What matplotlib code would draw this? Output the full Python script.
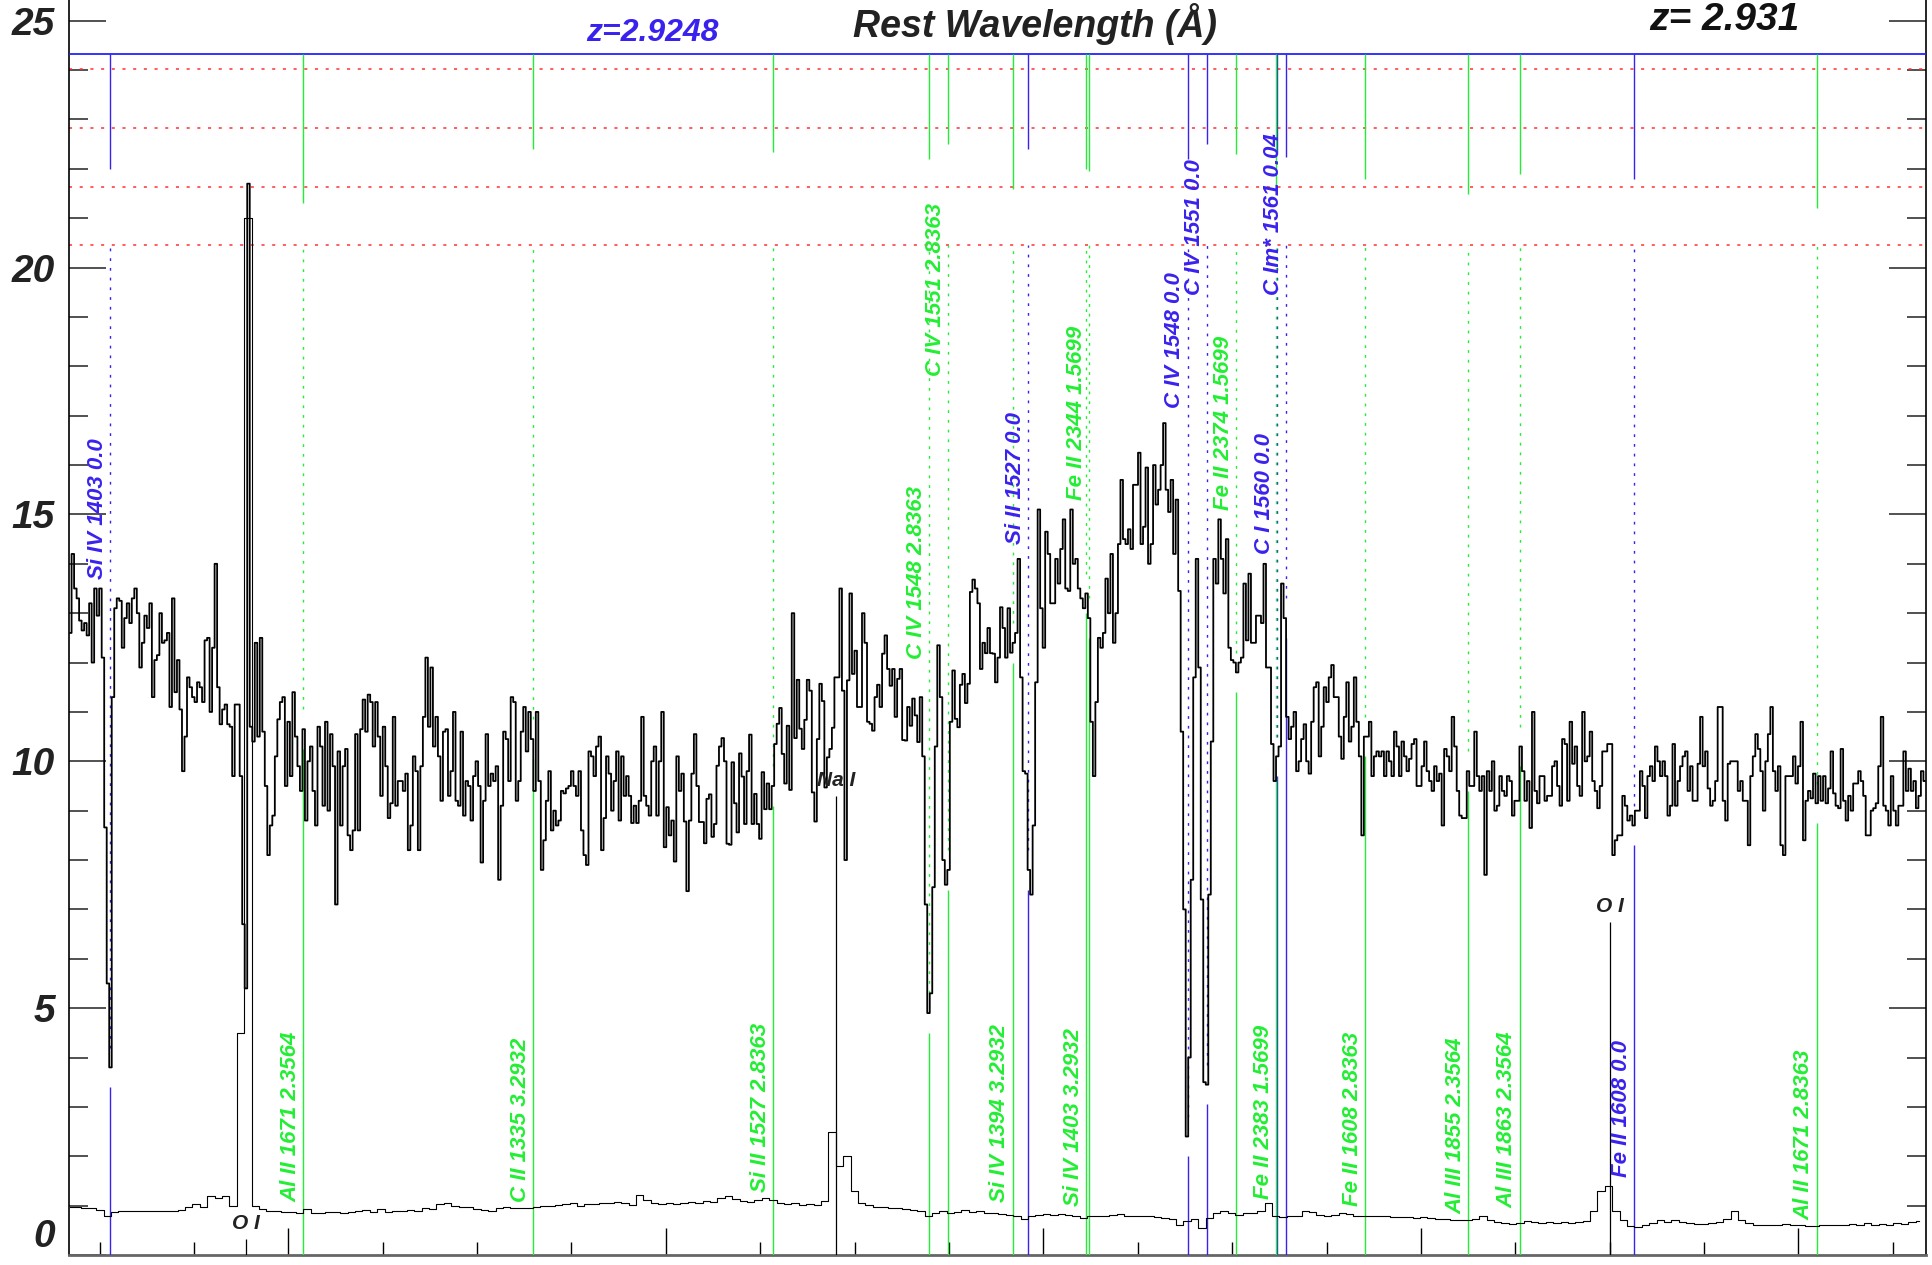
"""Spectrum with absorption-line identifications (two redshift systems)."""

import numpy as np
import matplotlib
matplotlib.use("Agg")
import matplotlib.pyplot as plt
from matplotlib.ticker import MultipleLocator, FuncFormatter

plt.rcParams["font.family"] = ["Liberation Sans", "DejaVu Sans"]

Z_SYS = 2.9248

# flux per pixel in four stretches (left to right)
flux_a = [
    12.6, 14.2, 13.5, 13.3, 12.85, 12.65, 12.8, 12.55, 13.2, 12.0, 13.5, 12.95, 13.5, 12.1,
    8.66, 5.5, 3.8, 11.3, 13.1, 13.3, 13.25, 12.3, 12.9, 13.2, 12.8, 13.3, 13.5, 13.0,
    11.9, 12.4, 12.95, 12.7, 13.2, 11.3, 12.05, 12.15, 13.0, 12.4, 12.45, 12.6, 11.1, 13.3,
    11.4, 12.05, 11.05, 9.8, 10.5, 11.7, 11.5, 11.3, 11.2, 11.6, 11.5, 11.2, 12.45, 12.5,
    11.0, 12.3, 14.0, 11.5, 10.75, 11.05, 11.15, 10.75, 10.7, 9.7, 11.15, 11.15, 9.7,
    6.7, 5.4, 21.7,
    10.7, 10.4, 12.4, 10.5, 12.5, 10.6, 9.5, 8.1, 8.7, 8.9,
    10.1, 10.85, 11.2, 11.3, 9.5, 10.8, 9.7, 11.4, 10.5, 9.9,
    9.4, 10.65, 8.8, 10.0, 10.3, 9.4, 8.7, 10.7, 10.3, 9.1,
    10.8, 9.0, 10.55, 9.9, 7.1, 10.2, 8.7, 9.9, 10.25,
    8.5, 8.2, 8.6, 10.55, 8.6, 10.65, 11.25, 10.6, 11.35, 11.2,
    10.3, 11.2, 10.5, 9.3, 10.7, 9.9, 8.85, 9.15, 10.9, 9.1,
    9.6, 9.6, 9.4, 9.75, 8.2, 8.7, 10.1, 9.8, 8.2, 9.9,
    10.9, 12.1, 10.7, 11.9, 10.3, 10.9, 10.1, 9.2, 10.6, 10.65,
    9.3, 9.8, 11.0, 9.2, 9.1, 10.6, 8.9, 9.6, 9.5, 8.8,
    9.7, 10.0, 9.5, 7.95, 9.2, 10.55, 9.5, 9.75, 9.6, 9.9,
    7.6, 9.1, 10.6, 10.45, 9.6, 11.3, 11.2, 9.2, 9.6, 10.6,
    11.1, 10.2, 11.0, 10.45, 9.4, 11.0, 9.6,
]
flux_b = [
    7.8, 8.4, 9.2, 9.8, 8.6, 9.0, 8.7, 8.8, 9.4, 9.35,
    9.45, 9.5, 9.8, 9.5, 9.3, 9.8, 8.6, 8.1, 7.9, 10.2,
    10.1, 9.7, 10.3, 10.5, 8.2, 8.85, 10.1, 9.75, 9.0, 9.6,
    10.2, 8.8, 10.1, 9.3, 9.7, 9.3, 8.75, 9.1, 8.75, 9.2,
    10.9, 9.3, 9.1, 8.9, 10.0, 10.3, 8.9, 10.0, 11.0, 8.26,
    9.07, 8.5, 8.8, 7.97, 10.1, 9.4, 9.75, 8.78, 7.37, 8.8,
    9.75, 10.55, 9.5, 8.77, 8.77, 8.34, 9.24, 9.33, 8.47, 8.73,
    9.91, 10.3, 10.47, 10.0, 8.33, 8.31, 9.98, 9.15, 8.56, 10.16,
    9.69, 8.73, 9.8, 10.54, 8.73, 9.34, 8.73, 8.43, 9.78, 9.03,
    9.55, 9.03, 9.5, 10.35, 10.76, 11.08, 10.15, 9.55, 10.72, 9.42,
    13.0, 10.47, 11.65, 10.66, 10.25, 10.84, 11.65, 11.43, 9.37, 8.78,
    10.45, 11.57, 11.22, 9.47, 10.08, 10.25, 10.68, 11.7, 11.7, 13.5,
    11.43, 8.0, 11.64, 13.4, 11.77, 12.24, 11.1, 11.1, 13.0, 12.4,
    10.8, 10.76, 10.62, 11.3, 11.55, 11.1, 12.18, 12.55, 11.87, 11.53,
    11.87, 10.9, 11.67, 11.87, 10.43, 10.42, 11.1, 10.72, 11.27, 10.93,
    10.39, 11.3, 10.1, 7.1, 4.9, 5.3, 7.45, 10.3, 12.35, 11.3,
    8.0, 7.5, 7.8, 10.8, 11.84, 10.86, 10.69, 11.55, 11.77, 11.18,
    11.57, 13.43, 13.68, 13.5, 13.2, 11.87, 12.4, 12.19, 12.7, 12.19,
    12.18, 11.6, 12.1, 13.12,
]
flux_c = [
    12.7, 12.1, 13.1, 12.2, 12.4, 12.6, 14.1, 11.7, 9.8, 9.75,
    7.8, 7.3, 8.7, 11.6, 15.1, 13.1, 12.3, 14.65, 14.2, 13.2,
    13.2, 14.1, 13.6, 14.3, 14.9, 13.5, 13.45, 15.1, 14.0, 14.1,
    13.5, 13.3, 13.1, 13.4, 12.9, 10.8, 9.7, 11.2, 12.5, 12.3,
    12.6, 13.7, 13.0, 14.2, 12.4, 13.0, 14.4, 15.7, 14.5, 14.4,
    14.7, 14.3, 15.6, 15.6, 16.25, 14.4, 14.75, 15.95, 14.0, 14.4,
    16.0, 15.2, 15.5, 16.0, 16.85, 15.5, 15.05, 15.7, 14.2, 15.3,
    13.45, 10.6, 7.0, 2.4, 4.0, 7.6, 11.7, 14.1, 11.9, 7.2,
    3.5, 3.45, 7.3, 10.4, 14.1, 13.6, 14.9, 14.1, 13.4, 14.5,
    12.3, 12.05, 12.0, 11.8, 12.0, 12.1, 13.6, 12.45, 13.8, 12.4,
    12.4, 12.95, 12.95, 12.8, 14.0, 11.9, 11.9, 10.35, 9.6, 10.1,
    10.3, 13.6, 12.9, 10.9, 10.45, 10.7, 11.0, 9.8, 10.0, 10.45,
    10.75, 10.0, 9.75, 10.8, 11.5, 11.6, 10.1, 10.7, 11.5, 11.2,
    11.7, 11.95, 11.3, 11.3, 10.5, 10.05, 10.9, 11.6, 10.4, 10.7,
    11.7, 10.8, 10.1, 8.5, 10.5, 10.5, 10.8, 9.7, 10.1, 10.2,
    10.1, 10.2, 9.7, 10.2, 10.0, 9.7, 10.6, 10.3, 9.7, 10.4,
    10.1, 9.8, 10.05, 10.35, 10.45, 9.5, 9.5, 9.9, 10.4, 9.8,
    9.6, 9.4, 9.9, 9.6, 9.75, 8.7, 10.25, 10.1, 9.8, 10.9,
    10.3, 9.4,
]
flux_d = [
    8.9, 8.85, 8.85, 9.8, 9.5, 9.5, 10.6, 9.7, 9.4, 9.7,
    7.7, 9.8, 9.4, 10.0, 9.0, 9.1, 9.7, 9.4, 9.3, 9.7,
    9.6, 8.9, 9.2, 9.2, 10.3, 9.8, 9.2, 9.6, 8.65, 11.0,
    9.4, 9.15, 9.7, 9.7, 9.2, 9.3, 9.3, 9.9, 10.0, 9.5,
    9.1, 10.45, 10.35, 9.2, 10.8, 9.95, 10.3, 9.5, 9.3, 11.0,
    10.0, 10.1, 10.6, 9.6, 9.4, 9.05, 9.5, 10.2, 10.2, 10.35,
    10.35, 8.1, 8.4, 8.5, 8.5, 9.3, 9.1, 8.8, 8.9, 8.7,
    9.0, 9.0, 9.8, 9.5, 8.85, 9.7, 9.9, 9.6, 10.3, 10.0,
    9.7, 10.0, 9.7, 8.9, 9.1, 10.35, 9.1, 9.6, 9.9, 10.1,
    10.2, 9.4, 9.9, 9.2, 9.2, 9.95, 10.9, 9.9, 10.2, 9.45,
    9.1, 9.2, 9.6, 11.1, 11.1, 9.2, 8.8, 9.95, 10.0, 10.0,
    10.0, 9.4, 9.6, 9.2, 9.2, 8.3, 9.7, 10.1, 10.55, 10.25,
    9.8, 9.0, 10.0, 10.55, 11.1, 9.8, 9.4, 9.9, 8.3, 8.1,
    9.7, 9.7, 9.7, 10.1, 9.55, 9.9, 10.8, 8.4, 9.2, 9.4,
    9.25, 9.75, 9.15, 9.7, 9.2, 9.7, 9.15, 9.45, 10.2, 9.35,
    9.1, 9.05, 10.25, 9.2, 8.8, 9.3, 9.0, 9.55, 9.55, 9.8,
    9.6, 9.3, 8.5, 8.5, 9.0, 9.05, 9.15, 9.9, 10.9, 9.1,
    9.0, 8.7, 9.7, 9.0, 8.7, 9.1, 9.1, 10.2, 9.4, 9.85,
    9.4, 9.6, 9.05, 9.3, 9.8, 9.6,
]

# error spectrum (coarser sampling)
error = [
    0.97, 0.97, 0.96, 0.95, 0.92, 0.80, 0.88, 0.90, 0.90, 0.89,
    0.90, 0.90, 0.90, 0.90, 0.89, 0.92, 0.97, 1.03, 0.98, 1.20,
    1.15, 1.20, 1.00, 4.50, 21.0, 1.00, 0.93, 0.90, 0.89, 0.88,
    0.87, 0.86, 0.93, 0.85, 0.86, 0.88, 0.88, 0.86, 0.88, 0.90,
    0.92, 0.88, 0.94, 0.88, 0.89, 0.90, 0.92, 0.90, 0.95, 0.93,
    1.03, 1.06, 1.00, 0.98, 0.97, 0.94, 0.92, 0.90, 0.95, 0.97,
    0.95, 0.96, 0.95, 0.97, 0.99, 1.00, 1.02, 1.03, 1.05, 1.00,
    1.03, 1.04, 1.06, 1.05, 1.08, 1.06, 1.02, 1.22, 1.12, 1.05,
    1.04, 1.06, 1.04, 1.05, 1.07, 1.05, 1.10, 1.08, 1.15, 1.20,
    1.13, 1.10, 1.08, 1.12, 1.16, 1.12, 1.05, 1.04, 1.06, 1.02,
    1.04, 1.02, 1.10, 2.50, 1.80, 2.00, 1.30, 1.06, 1.02, 0.98,
    0.97, 0.95, 0.95, 0.93, 0.92, 0.90, 0.78, 0.85, 0.90, 0.86,
    0.88, 0.92, 0.88, 0.90, 0.86, 0.85, 0.84, 0.82, 0.80, 0.72,
    0.78, 0.82, 0.84, 0.82, 0.84, 0.82, 0.80, 0.75, 0.78, 0.80,
    0.80, 0.82, 0.84, 0.80, 0.80, 0.79, 0.78, 0.76, 0.75, 0.72,
    0.60, 0.68, 0.72, 0.55, 0.75, 0.85, 0.90, 0.85, 0.82, 0.85,
    0.86, 0.90, 1.05, 0.78, 0.76, 0.80, 0.80, 0.90, 0.88, 0.82,
    0.80, 0.82, 0.85, 0.84, 0.78, 0.80, 0.80, 0.78, 0.80, 0.77,
    0.76, 0.76, 0.75, 0.76, 0.74, 0.72, 0.72, 0.71, 0.70, 0.70,
    0.72, 0.80, 0.70, 0.66, 0.64, 0.62, 0.65, 0.68, 0.66, 0.65,
    0.66, 0.64, 0.66, 0.65, 0.67, 0.68, 0.90, 1.30, 1.40, 0.90,
    0.70, 0.58, 0.57, 0.60, 0.65, 0.70, 0.66, 0.70, 0.66, 0.64,
    0.62, 0.63, 0.65, 0.66, 0.72, 0.90, 0.70, 0.64, 0.60, 0.60,
    0.60, 0.60, 0.62, 0.60, 0.60, 0.58, 0.58, 0.60, 0.60, 0.60,
    0.60, 0.62, 0.60, 0.64, 0.60, 0.62, 0.60, 0.65, 0.62, 0.66,
    0.68,
]

# z = 2.9248 system (blue)
blue_ions = ["Si IV 1403", "Si II 1527", "C IV 1548", "C IV 1551", "C I 1560", "C Im* 1561", "Fe II 1608"]
blue_rest = [1402.77, 1526.71, 1548.20, 1550.78, 1560.31, 1561.44, 1608.45]
blue_tag = ["0.0", "0.0", "0.0", "0.0", "0.0", "0.04", "0.0"]
blue_tick_end = [22.0, 22.4, 22.2, 22.5, 22.3, 22.25, 21.8]
blue_label_y = [13.7, 14.4, 17.15, 19.45, 14.2, 19.45, 1.58]

# intervening systems (green)
green_ions = ["Al II 1671", "C II 1335", "Si II 1527", "C IV 1548", "C IV 1551", "Si IV 1394", "Fe II 2344",
              "Si IV 1403", "Fe II 2374", "Fe II 2383", "Fe II 1608", "Al III 1855", "Al III 1863", "Al II 1671"]
green_rest = [1670.79, 1334.53, 1526.71, 1548.20, 1550.78, 1393.76, 2344.21,
              1402.77, 2374.46, 2382.77, 1608.45, 1854.72, 1862.79, 1670.79]
green_z = [2.3564, 3.2932, 2.8363, 2.8363, 2.8363, 3.2932, 1.5699,
           3.2932, 1.5699, 1.5699, 2.8363, 2.3564, 2.3564, 2.8363]
green_tick_end = [21.3, 22.4, 22.35, 22.2, 22.5, 21.6, 21.95, 22.0, 22.3, 21.5, 21.8, 21.5, 21.9, 21.2]
green_label_y = [1.08, 1.08, 1.28, 12.08, 17.8, 1.08, 15.3, 1.0, 15.1, 1.13, 1.0, 0.83, 0.95, 0.7]

# night-sky lines
sky_names = ["O I", "Na I", "O I"]
sky_wave = [5577.34, 5889.95, 6300.30]
sky_top = [0.33, 9.3, 6.75]

red_levels = [24.02, 22.82, 21.63, 20.45]
BLUE_BAR = 24.33

BLUE = "#3a22ee"
GREEN = "#22ee33"

flux = np.array(flux_a + flux_b + flux_c + flux_d)
wave = np.linspace(5484.5, 6466.9, len(flux))
err = np.array(error)
err_wave = np.linspace(5484.5, 6464.0, len(err))

fig = plt.figure(figsize=(19.33, 12.65), dpi=100)
ax = fig.add_axes([69 / 1933, 10 / 1265, 1857 / 1933, 1255 / 1265])

ax.step(wave, flux, where="mid", color="black", lw=1.3, zorder=4)
ax.step(err_wave, err, where="mid", color="black", lw=0.8, zorder=4)

for y in red_levels:
    ax.axhline(y, color="#ff3030", lw=1.1, ls=(0, (2, 5)), zorder=2)
ax.axhline(BLUE_BAR, color="#2222ff", lw=1.3, zorder=3)


def flux_at(x):
    return flux[np.abs(wave - x).argmin()]


def mark_line(x, tick_end, label, label_y, color):
    f = flux_at(x)
    ax.vlines(x, tick_end, BLUE_BAR, color=color, lw=1.0, zorder=3)
    ax.vlines(x, f + 0.4, red_levels[-1], color=color, lw=1.0, ls=(0, (2, 5)), zorder=3)
    ax.vlines(x, 0, f - 0.4, color=color, lw=1.0, zorder=3)
    ax.annotate(label, (x, label_y), xytext=(-1.5, 0), textcoords="offset points",
                rotation=90, ha="right", va="bottom", color=color,
                fontsize=16, fontweight="bold", fontstyle="italic", zorder=5)


for ion, lam, tag, te, ly in zip(blue_ions, blue_rest, blue_tag, blue_tick_end, blue_label_y):
    mark_line(lam * (1 + Z_SYS), te, f"{ion} {tag}", ly, BLUE)

for ion, lam, z, te, ly in zip(green_ions, green_rest, green_z, green_tick_end, green_label_y):
    mark_line(lam * (1 + z), te, f"{ion} {z:.4f}", ly, GREEN)

for name, x, top in zip(sky_names, sky_wave, sky_top):
    ax.vlines(x, 0, top, color="black", lw=0.9, zorder=4)
    ax.text(x, top + 0.12, name, ha="center", va="bottom", color="#222222",
            fontsize=15, fontweight="bold", fontstyle="italic", zorder=5)

ax.set_xlim(5483.8, 6467.6)
ax.set_ylim(0, 25.42)

ax.xaxis.set_major_locator(MultipleLocator(200))
ax.xaxis.set_minor_locator(MultipleLocator(50))
ax.yaxis.set_major_locator(MultipleLocator(5))
ax.yaxis.set_minor_locator(MultipleLocator(1))
# the "0" label is drawn separately so it sits inside the figure
ax.yaxis.set_major_formatter(FuncFormatter(lambda v, p: "" if abs(v) < 1e-9 else f"{v:.0f}"))
ax.tick_params(axis="x", which="both", direction="in", top=False, labelbottom=False, color="black", width=1.0)
ax.tick_params(axis="x", which="major", length=19.5)
ax.tick_params(axis="x", which="minor", length=9.5)
ax.tick_params(axis="y", which="both", direction="in", left=True, right=True, color="#333333", width=1.2)
ax.tick_params(axis="y", which="major", length=26.5, labelsize=28, pad=10, labelcolor="#222222")
ax.tick_params(axis="y", which="minor", length=13.5)
for tick in ax.yaxis.get_major_ticks():
    tick.label1.set_fontweight("bold")
    tick.label1.set_fontstyle("italic")
ax.annotate("0", xy=(0, 0), xycoords=("axes fraction", "data"), xytext=(-10, 0),
            textcoords="offset points", ha="right", va="bottom", fontsize=28,
            fontweight="bold", fontstyle="italic", color="#222222", annotation_clip=False)

ax.spines["top"].set_visible(False)
ax.spines["bottom"].set_color("#666666")
ax.spines["bottom"].set_linewidth(2.0)
ax.spines["left"].set_linewidth(1.2)
ax.spines["right"].set_linewidth(1.2)

fig.text(0.5355, 1 - 3 / 1265, "Rest Wavelength (Å)", ha="center", va="top",
         fontsize=27, fontweight="bold", fontstyle="italic", color="#222222")
fig.text(0.3375, 1 - 33 / 1265, "z=2.9248", ha="center", va="center",
         fontsize=23, fontweight="bold", fontstyle="italic", color=BLUE)
fig.text(0.892, 1 - 20 / 1265, "z= 2.931", ha="center", va="center",
         fontsize=28, fontweight="bold", fontstyle="italic", color="#111111")

fig.savefig("out.png", dpi=100)
